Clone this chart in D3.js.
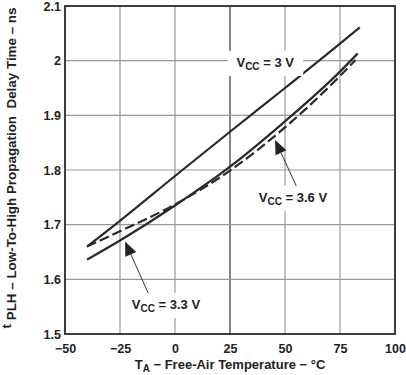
<!DOCTYPE html>
<html lang="en">
<head>
<meta charset="UTF-8">
<title>tPLH vs Temperature</title>
<script src="https://cdnjs.cloudflare.com/ajax/libs/d3/7.8.5/d3.min.js"></script>
<style>
  body { margin: 0; background: #fff; }
  svg text { font-family: "Liberation Sans", Arial, sans-serif; font-weight: bold; fill: #222; }
</style>
</head>
<body>
<script>
// temperatures (°C) and delay (ns)
var temps30 = [-40, -25, 0, 25, 50, 75, 84];
var vals30  = [1.660, 1.707, 1.789, 1.870, 1.950, 2.031, 2.061];
var temps33 = [-40, -25, 0, 25, 50, 75, 83];
var vals33  = [1.636, 1.671, 1.735, 1.806, 1.889, 1.980, 2.013];
var temps36 = [-40, -25, 0, 25, 50, 75, 82];
var vals36  = [1.660, 1.688, 1.737, 1.799, 1.878, 1.972, 2.001];

var xTicks = [-50, -25, 0, 25, 50, 75, 100];
var yTicks = [1.5, 1.6, 1.7, 1.8, 1.9, 2, 2.1];

// callouts: label text, label centre, arrow tail, arrow tip (data units)
var notes = [
  {v: "3 V",   lx: 41,  ly: 1.996, arrow: null},
  {v: "3.6 V", lx: 53.6, ly: 1.749, arrow: [[55.9, 1.764], [45.5, 1.855]]},
  {v: "3.3 V", lx: -4.1, ly: 1.553, arrow: [[-11.4, 1.568], [-22.7, 1.669]]}
];

var margin = {top: 6, right: 11, bottom: 41, left: 65},
    width = 406 - margin.left - margin.right,
    height = 375 - margin.top - margin.bottom;

var svg = d3.select("body").append("svg")
    .attr("width", 406)
    .attr("height", 375)
  .append("g")
    .attr("transform", "translate(" + margin.left + "," + margin.top + ")");

var x = d3.scaleLinear().domain([-50, 100]).range([0, width]);
var y = d3.scaleLinear().domain([1.5, 2.1]).range([height, 0]);

// grid
svg.selectAll(".vg").data(xTicks.slice(1, -1)).enter().append("line")
    .attr("x1", d => x(d)).attr("x2", d => x(d))
    .attr("y1", 0).attr("y2", height)
    .style("stroke", d => d === 25 ? "#333" : "#999")
    .style("stroke-width", 1.2);
svg.selectAll(".hg").data(yTicks.slice(1, -1)).enter().append("line")
    .attr("x1", 0).attr("x2", width)
    .attr("y1", d => y(d)).attr("y2", d => y(d))
    .style("stroke", "#999")
    .style("stroke-width", 1.2);

// axes (labels only)
var xAxis = svg.append("g")
    .attr("transform", "translate(0," + height + ")")
    .call(d3.axisBottom(x).tickValues(xTicks).tickSize(0).tickPadding(10)
      .tickFormat(d => d < 0 ? "\u2212" + Math.abs(d) : d));
var yAxis = svg.append("g")
    .call(d3.axisLeft(y).tickValues(yTicks).tickSize(0).tickPadding(4)
      .tickFormat(d3.format("")));
[xAxis, yAxis].forEach(function(a) {
  a.select(".domain").remove();
  a.selectAll("text").style("font-size", "12.5px").style("fill", "#222");
});

// curves
var line = d3.line().x(d => x(d[0])).y(d => y(d[1])).curve(d3.curveMonotoneX);
var series = [
  {t: temps30, v: vals30, dash: null},
  {t: temps33, v: vals33, dash: null},
  {t: temps36, v: vals36, dash: "10,4"}
];
series.forEach(function(s) {
  svg.append("path")
    .datum(d3.zip(s.t, s.v))
    .attr("d", line)
    .style("fill", "none")
    .style("stroke", "#2a2a2a")
    .style("stroke-width", 2.2)
    .style("stroke-dasharray", s.dash);
});

// frame
svg.append("rect")
    .attr("width", width).attr("height", height)
    .style("fill", "none").style("stroke", "#2a2a2a").style("stroke-width", 1.8);

// callouts
notes.forEach(function(n) {
  if (n.arrow) {
    var x0 = x(n.arrow[0][0]), y0 = y(n.arrow[0][1]);
    var x1 = x(n.arrow[1][0]), y1 = y(n.arrow[1][1]);
    var ang = Math.atan2(y1 - y0, x1 - x0), L = 14, W = 6;
    var bx = x1 - L * Math.cos(ang), by = y1 - L * Math.sin(ang);
    svg.append("line")
      .attr("x1", x0).attr("y1", y0).attr("x2", bx).attr("y2", by)
      .style("stroke", "#333").style("stroke-width", 1);
    svg.append("path")
      .attr("d", "M" + x1 + "," + y1 +
        "L" + (bx + W * Math.sin(ang)) + "," + (by - W * Math.cos(ang)) +
        "L" + (bx - W * Math.sin(ang)) + "," + (by + W * Math.cos(ang)) + "Z")
      .style("fill", "#222");
  }
  var g = svg.append("g");
  var bg = g.append("rect").style("fill", "#fff");
  var t = g.append("text")
    .attr("x", x(n.lx)).attr("y", y(n.ly) + 4)
    .attr("text-anchor", "middle")
    .style("font-size", "13px");
  t.append("tspan").text("V");
  t.append("tspan").text("CC").style("font-size", "10px").attr("dy", 3);
  t.append("tspan").text(" = " + n.v).attr("dy", -3);
  var b = t.node().getBBox();
  bg.attr("x", b.x - 9).attr("y", b.y - 4).attr("width", b.width + 18).attr("height", b.height + 8);
});

// axis titles
var xt = svg.append("text")
    .attr("x", width / 2).attr("y", height + 35)
    .attr("text-anchor", "middle")
    .style("font-size", "13px");
xt.append("tspan").text("T");
xt.append("tspan").text("A").style("font-size", "10px").attr("dy", 3);
xt.append("tspan").text(" \u2212 Free-Air Temperature \u2212 \u00B0C").attr("dy", -3);

var yt = svg.append("text")
    .attr("transform", "translate(" + (-49) + "," + (height / 2 - 2) + ") rotate(-90)")
    .attr("text-anchor", "middle")
    .attr("xml:space", "preserve")
    .style("font-size", "13.4px");
yt.append("tspan").text("t").attr("dy", -5);
yt.append("tspan").text(" PLH").attr("dy", 5);
yt.append("tspan").text(" \u2013 Low-To-High Propagation  Delay Time \u2013 ns");
</script>
</body>
</html>
